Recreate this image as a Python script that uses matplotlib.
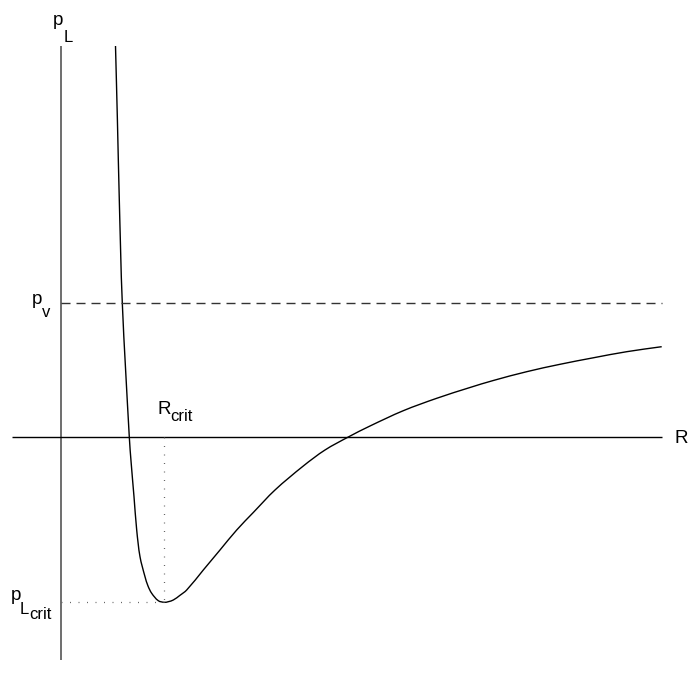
import matplotlib
matplotlib.use("Agg")
import numpy as np
import matplotlib.pyplot as plt
from matplotlib.path import Path
from matplotlib.patches import PathPatch

plt.rcParams['font.family'] = ['Liberation Sans', 'DejaVu Sans']

# Curve (R, p_L), arbitrary units
R_curve = [0.545, 0.564, 0.583, 0.613, 0.683, 0.702, 0.730, 0.757, 0.790, 0.840,
           0.870, 0.907, 0.973, 1.033, 1.073, 1.123, 1.190, 1.257, 1.423, 1.590,
           1.757, 1.923, 2.140, 2.423, 2.640, 2.873, 3.090, 3.423, 3.757, 4.090,
           4.323, 4.657, 4.990, 5.323, 5.657, 6.007]
p_curve = [3.91, 3.17, 2.37, 1.34, 0.00, -0.263, -0.597, -0.930, -1.197, -1.397,
           -1.490, -1.563, -1.637, -1.653, -1.647, -1.630, -1.583, -1.530, -1.330, -1.130,
           -0.930, -0.755, -0.530, -0.290, -0.130, 0.000, 0.110, 0.263, 0.387, 0.495,
           0.565, 0.653, 0.727, 0.792, 0.853, 0.903]

p_v = 1.34
R_crit = 1.033
p_L_crit = -1.653

x_axis_range = (-0.49, 6.01)
y_axis_range = (-2.23, 3.91)

fig = plt.figure(figsize=(6.92, 6.92), dpi=100)
ax = fig.add_axes([0, 0, 1, 1])
ax.set_xlim(-0.61, 6.31)
ax.set_ylim(-2.55, 4.37)
ax.axis('off')

# axes lines
ax.plot([0, 0], y_axis_range, color='#555555', lw=1.2, solid_capstyle='butt')
ax.plot(x_axis_range, [0, 0], color='black', lw=1.0, solid_capstyle='butt')

# p_v dashed line
ax.plot([0, x_axis_range[1]], [p_v, p_v], color='#333333', lw=1.0,
        linestyle=(0, (6.5, 4.3)))

# dotted guide lines
ax.plot([R_crit, R_crit], [0, p_L_crit], color='#666666', lw=0.9,
        linestyle=(0, (0.8, 6.0)))
ax.plot([0, R_crit], [p_L_crit, p_L_crit], color='#666666', lw=0.9,
        linestyle=(0, (0.8, 6.0)))

# curve: drawn as a smooth Bezier path through the read points
P = np.column_stack([R_curve, p_curve])
n = len(P)
tang = np.zeros_like(P)
for i in range(n):
    a = P[max(i - 1, 0)]
    b = P[min(i + 1, n - 1)]
    d = b - a
    tang[i] = d / np.hypot(*d)
verts = [P[0]]
codes = [Path.MOVETO]
for i in range(n - 1):
    L = np.hypot(*(P[i + 1] - P[i]))
    verts += [P[i] + tang[i] * L / 3, P[i + 1] - tang[i + 1] * L / 3, P[i + 1]]
    codes += [Path.CURVE4] * 3
ax.add_patch(PathPatch(Path(verts, codes), facecolor='none', edgecolor='black',
                       lw=1.0))


def px(x, y):
    return (x - 61) / 100.0, (437 - y) / 100.0


def label(x, y, s, size):
    X, Y = px(x, y)
    ax.text(X, Y, s, fontsize=size, ha='left', va='baseline')


big, small = 13.5, 12
label(53, 25, 'p', big)
label(64, 42, 'L', small)
label(32, 304, 'p', big)
label(42, 317, 'v', small)
label(11, 600, 'p', big)
label(20, 614, 'L', small)
label(29, 619, 'crit', small)
label(157, 414, 'R', big)
label(170, 421, 'crit', small)
label(674, 443, 'R', big)

fig.savefig('out.png', dpi=100)
